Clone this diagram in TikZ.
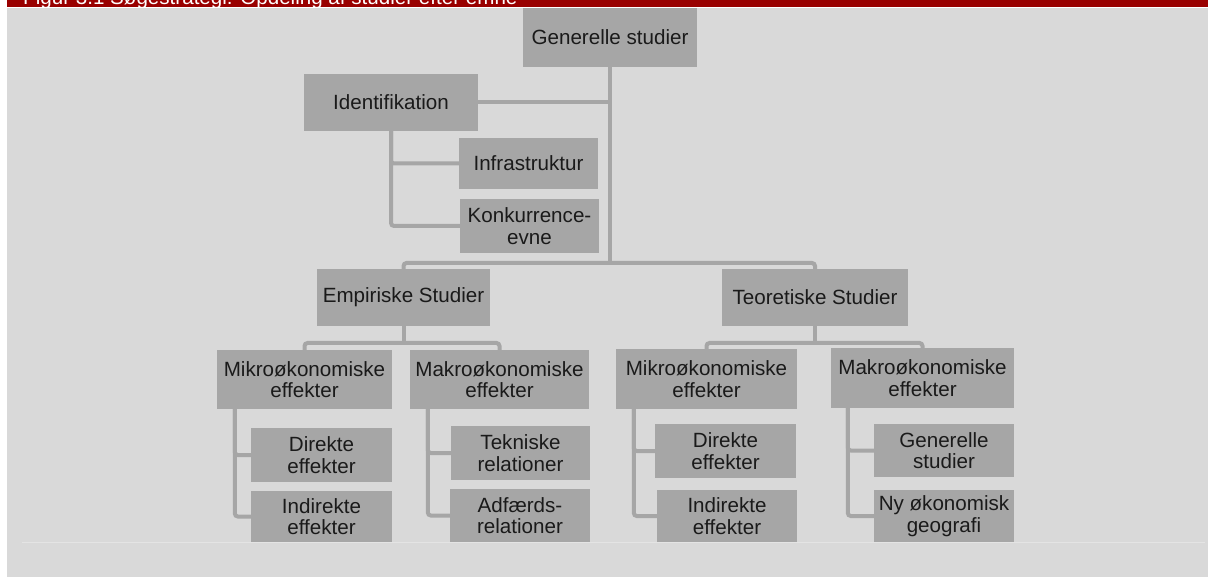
\documentclass[tikz,border=0pt]{standalone}
\usepackage{fontspec}
\setmainfont{Liberation Sans}
\definecolor{bg}{HTML}{D9D9D9}
\definecolor{boxg}{HTML}{A6A6A6}
\definecolor{band}{HTML}{990000}
\definecolor{txt}{HTML}{1A1A1A}
\definecolor{faint}{HTML}{E4E4E4}
\tikzset{
  box/.style={fill=boxg, draw=none, inner sep=0pt, align=center, text=txt,
    font=\fontsize{20.6}{21.5}\selectfont},
  conn/.style={draw=boxg, line width=4pt, rounded corners=3pt},
}
\begin{document}
\begin{tikzpicture}[x=1pt,y=-1pt]
\useasboundingbox (0,0) rectangle (1208,577);
\fill[white] (0,0) rectangle (1208,577);
\fill[bg] (7,8.5) rectangle (1208,577);
\fill[band] (7,0) rectangle (1208,7);
\begin{scope}
  \clip (7,0) rectangle (1208,7);
  \node[anchor=base west, inner sep=0pt, text=white, font=\fontsize{20.6}{22}\selectfont] (title) at (23,5) {Figur 3.1 Søgestrategi: Opdeling af studier efter emne};
\end{scope}
\draw[faint, line width=1pt] (22,542) -- (1205,542);

% nodes
\node[box, minimum width=174, minimum height=59] (gen) at (610,37.5) {Generelle studier};
\node[box, minimum width=174, minimum height=57] (ident) at (391,102.5) {Identifikation};
\node[box, minimum width=139, minimum height=51] (infra) at (528.5,163.5) {Infrastruktur};
\node[box, minimum width=139, minimum height=54] (konk) at (529.5,226) {Konkurrence-\\evne};
\node[box, minimum width=173, minimum height=57] (emp) at (403.5,297.5) {Empiriske Studier};
\node[box, minimum width=186, minimum height=57] (teo) at (815,297.5) {Teoretiske Studier};

\node[box, minimum width=175, minimum height=59] (lmik) at (304.5,379.5) {Mikroøkonomiske\\effekter};
\node[box, minimum width=179, minimum height=59] (lmak) at (499.5,379.5) {Makroøkonomiske\\effekter};
\node[box, minimum width=141, minimum height=54] (ldir) at (321.5,455) {Direkte\\effekter};
\node[box, minimum width=141, minimum height=51] (lind) at (321.5,516.5) {Indirekte\\effekter};
\node[box, minimum width=139, minimum height=54] (ltek) at (520.5,453) {Tekniske\\relationer};
\node[box, minimum width=140, minimum height=53] (ladf) at (520,515.5) {Adfærds-\\relationer};

\node[box, minimum width=181, minimum height=60] (rmik) at (706.5,379) {Mikroøkonomiske\\effekter};
\node[box, minimum width=183, minimum height=60] (rmak) at (922.5,378) {Makroøkonomiske\\effekter};
\node[box, minimum width=141, minimum height=54] (rdir) at (725.5,451) {Direkte\\effekter};
\node[box, minimum width=140, minimum height=52] (rind) at (727,516) {Indirekte\\effekter};
\node[box, minimum width=140, minimum height=53] (rgen) at (944,450.5) {Generelle\\studier};
\node[box, minimum width=140, minimum height=52] (rny) at (944,516) {Ny økonomisk\\geografi};

% connectors
\coordinate (b1) at (610,263);
\coordinate (b2l) at (403.5,343);
\coordinate (b2r) at (815,343);
\draw[conn] (gen.south) -- (b1);
\draw[conn] (emp.north) |- (b1) -| (teo.north);
\draw[conn] (ident.east) -- (ident.east -| gen.south);
\draw[conn] (ident.south) |- (infra.west);
\draw[conn] (ident.south) |- (konk.west);

\draw[conn] (emp.south) -- (b2l);
\draw[conn] (lmik.north) |- (b2l) -| (lmak.north);
\draw[conn] (teo.south) -- (b2r);
\draw[conn] (rmik.north) |- (b2r) -| (rmak.north);

\draw[conn] ([xshift=18pt]lmik.south west) |- (ldir.west);
\draw[conn] ([xshift=18pt]lmik.south west) |- (lind.west);
\draw[conn] ([xshift=18pt]lmak.south west) |- (ltek.west);
\draw[conn] ([xshift=18pt]lmak.south west) |- (ladf.west);
\draw[conn] ([xshift=18pt]rmik.south west) |- (rdir.west);
\draw[conn] ([xshift=18pt]rmik.south west) |- (rind.west);
\draw[conn] ([xshift=17pt]rmak.south west) |- (rgen.west);
\draw[conn] ([xshift=17pt]rmak.south west) |- (rny.west);
\end{tikzpicture}
\end{document}
